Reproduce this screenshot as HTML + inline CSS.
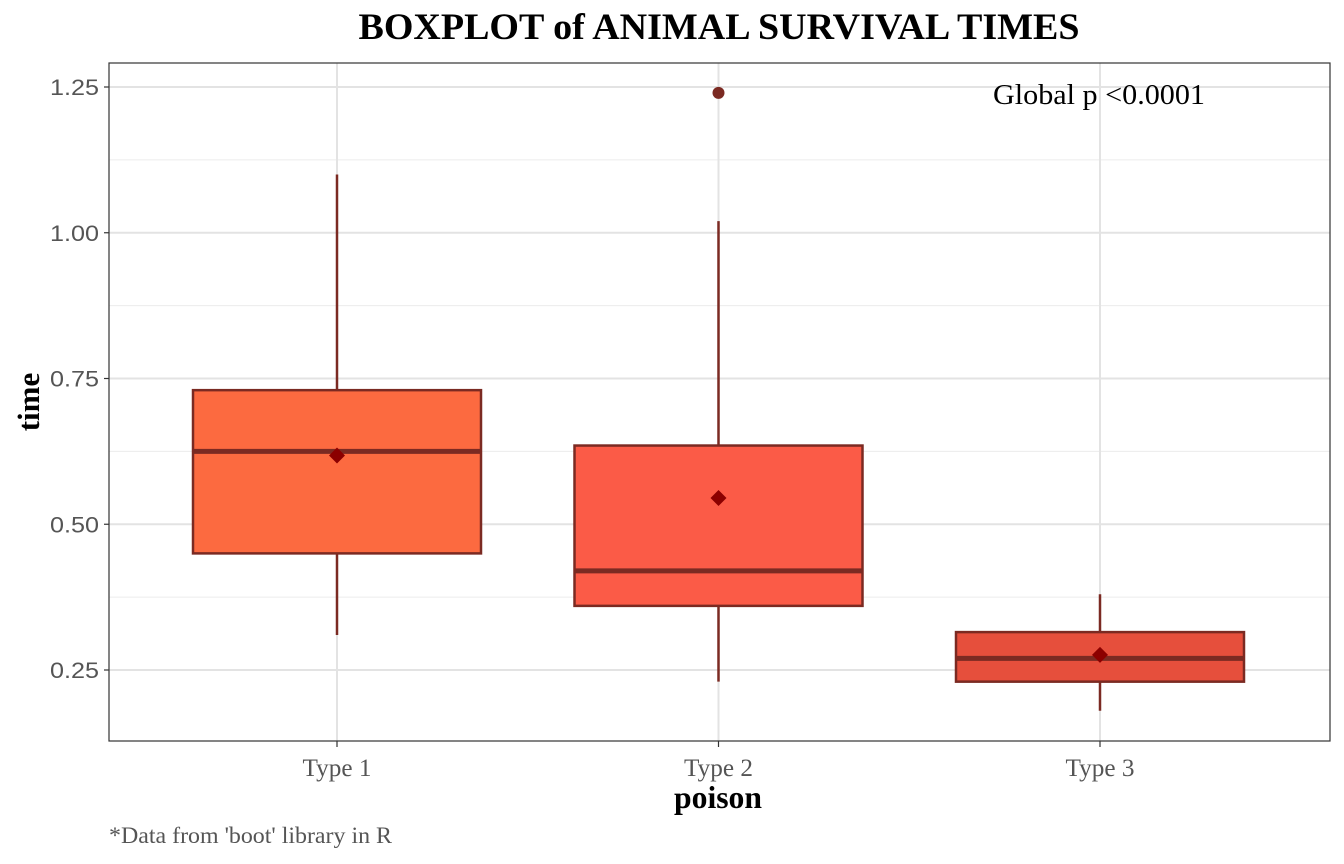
<!DOCTYPE html>
<html><head><meta charset="utf-8"><style>
body{margin:0;background:#fff;}
svg{display:block;}
</style></head><body>
<svg id="chart" width="1344" height="864">
<text x="719" y="39" text-anchor="middle" font-family="Liberation Serif, serif" font-weight="bold" font-size="37" textLength="721" lengthAdjust="spacingAndGlyphs">BOXPLOT of ANIMAL SURVIVAL TIMES</text>
<g id="grid"></g>
<g id="marks"></g>
<rect x="109" y="63" width="1221" height="678" fill="none" stroke="#333" stroke-width="1.2"/>
<g id="axes"></g>
<text x="1099" y="104" text-anchor="middle" font-family="Liberation Serif, serif" font-size="29" textLength="212" lengthAdjust="spacingAndGlyphs">Global p &lt;0.0001</text>
<text x="718" y="808" text-anchor="middle" font-family="Liberation Serif, serif" font-weight="bold" font-size="32" textLength="88" lengthAdjust="spacingAndGlyphs">poison</text>
<text transform="translate(39,402) rotate(-90)" text-anchor="middle" font-family="Liberation Serif, serif" font-weight="bold" font-size="31">time</text>
<text x="109" y="843" font-family="Liberation Serif, serif" font-size="23" fill="#555" textLength="283" lengthAdjust="spacingAndGlyphs">*Data from 'boot' library in R</text>
</svg>
<script>
const categories=["Type 1","Type 2","Type 3"];
const whiskerLow=[0.31,0.23,0.18];
const q1=[0.45,0.36,0.23];
const medians=[0.625,0.42,0.27];
const q3=[0.73,0.635,0.315];
const whiskerHigh=[1.10,1.02,0.38];
const means=[0.618,0.545,0.276];
const outliers=[[],[1.24],[]];
const yTicks=[0.25,0.50,0.75,1.00,1.25];
const yTickLabels=["0.25","0.50","0.75","1.00","1.25"];
const fills=["#FC6A40","#FB5B47","#E64F3C"];
const NS="http://www.w3.org/2000/svg";
const y=v=>670-(v-0.25)*583;
const x=i=>337+i*381.5;
function mk(parent,tag,attrs){const e=document.createElementNS(NS,tag);for(const k in attrs)e.setAttribute(k,attrs[k]);document.getElementById(parent).appendChild(e);return e;}
for(let i=0;i<yTicks.length-1;i++){
 const e=mk('grid','line',{x1:109,x2:1330,y1:y((yTicks[i]+yTicks[i+1])/2),y2:y((yTicks[i]+yTicks[i+1])/2),stroke:'#ececec','stroke-width':1});
 
 
}
yTicks.forEach((t,i)=>{
 const g=mk('grid','line',{x1:109,x2:1330,y1:y(t),y2:y(t),stroke:'#e3e3e3','stroke-width':2});
 
 
 const tk=mk('axes','line',{x1:104,x2:109,y1:y(t),y2:y(t),stroke:'#333','stroke-width':1.2});
 
 
 const l=mk('axes','text',{x:99,y:y(t)+8,'text-anchor':'end','font-family':'Liberation Sans, sans-serif','font-size':22,fill:'#555',textLength:49,lengthAdjust:'spacingAndGlyphs'});
 l.textContent=yTickLabels[i];
 
 
});
categories.forEach((c,i)=>{
 const cx=x(i);
 const g=mk('grid','line',{x1:cx,x2:cx,y1:63,y2:741,stroke:'#e3e3e3','stroke-width':2});
 
 
 const w=mk('marks','line',{x1:cx,x2:cx,y1:y(whiskerLow[i]),y2:y(whiskerHigh[i]),stroke:'#7B2A22','stroke-width':2.5});
 
 
 const b=mk('marks','rect',{x:cx-144,y:y(q3[i]),width:288,height:y(q1[i])-y(q3[i]),fill:fills[i],stroke:'#7B2A22','stroke-width':2.5});
 
 
 const m=mk('marks','line',{x1:cx-144,x2:cx+144,y1:y(medians[i]),y2:y(medians[i]),stroke:'#7B2A22','stroke-width':5});
 
 
 const my=y(means[i]);
 const d=mk('marks','polygon',{points:`${cx},${my-8} ${cx+8},${my} ${cx},${my+8} ${cx-8},${my}`,fill:'#8B0000'});
 
 
 outliers[i].forEach(o=>{
  const p=mk('marks','circle',{cx:cx,cy:y(o),r:6,fill:'#7B2A22'});
  
  
 });
 const tk=mk('axes','line',{x1:cx,x2:cx,y1:741,y2:747,stroke:'#333','stroke-width':1.2});
 
 
 const l=mk('axes','text',{x:cx,y:776,'text-anchor':'middle','font-family':'Liberation Serif, serif','font-size':25,fill:'#555',textLength:69,lengthAdjust:'spacingAndGlyphs'});
 l.textContent=c;
 
 
});
</script>
</body></html>
